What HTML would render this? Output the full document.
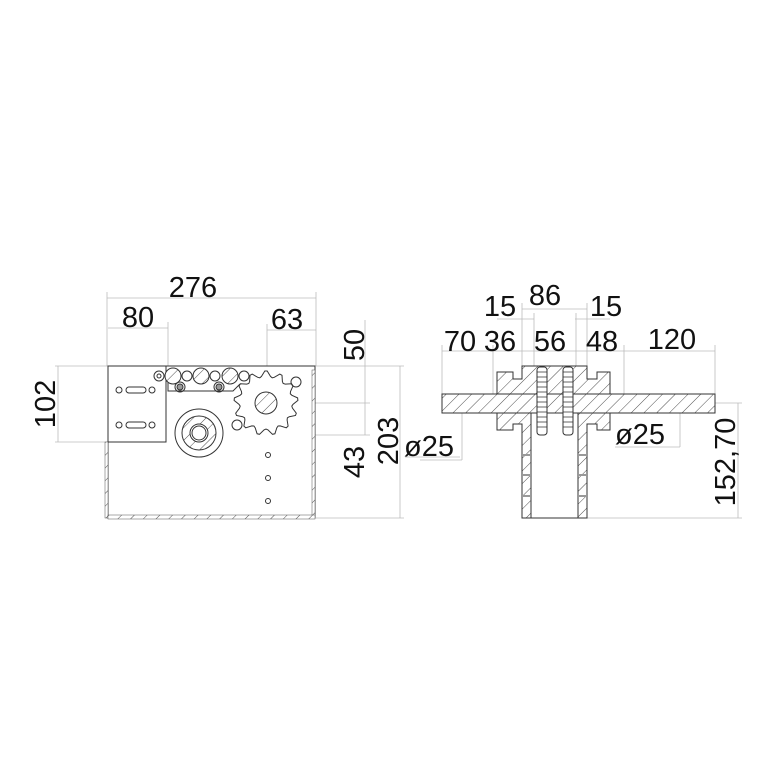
<!DOCTYPE html>
<html><head><meta charset="utf-8"><style>
html,body{margin:0;padding:0;background:#fff}
svg text{font-family:"Liberation Sans",sans-serif;font-size:29px;fill:#111}
</style></head><body>
<svg id="s" width="768" height="768" viewBox="0 0 768 768" xmlns="http://www.w3.org/2000/svg">
<defs>
<pattern id="h" width="9" height="9" patternUnits="userSpaceOnUse" patternTransform="rotate(45)">
<rect width="9" height="9" fill="#fff"/><line x1="0" y1="0" x2="0" y2="9" stroke="#222" stroke-width="0.8"/></pattern>
</defs>
<g stroke="#bbb" stroke-width="0.8" fill="none">
<line x1="107" y1="298" x2="316" y2="298"/><line x1="107" y1="292" x2="107" y2="366"/><line x1="316" y1="292" x2="316" y2="366"/>
<line x1="108" y1="328" x2="168" y2="328"/><line x1="168" y1="322" x2="168" y2="366"/>
<line x1="267" y1="330" x2="316" y2="330"/><line x1="267" y1="324" x2="267" y2="403"/>
<line x1="58" y1="366" x2="58" y2="442"/><line x1="55" y1="366" x2="108" y2="366"/><line x1="55" y1="442" x2="108" y2="442"/>
<line x1="365" y1="320" x2="365" y2="435"/><line x1="316" y1="366" x2="370" y2="366"/><line x1="280" y1="403" x2="370" y2="403"/><line x1="220" y1="435" x2="370" y2="435"/>
<line x1="400" y1="366" x2="400" y2="518"/><line x1="316" y1="518" x2="404" y2="518"/><line x1="370" y1="366" x2="404" y2="366"/>
<line x1="405" y1="457" x2="460" y2="457"/>
<line x1="522" y1="309" x2="587" y2="309"/><line x1="522" y1="303" x2="522" y2="366"/><line x1="587" y1="303" x2="587" y2="366"/>
<line x1="497" y1="319" x2="534" y2="319"/><line x1="575" y1="319" x2="610" y2="319"/>
<line x1="442" y1="351" x2="715" y2="351"/>
<line x1="442" y1="345" x2="442" y2="394"/><line x1="493" y1="345" x2="493" y2="394"/><line x1="534" y1="313" x2="534" y2="366"/><line x1="576" y1="313" x2="576" y2="366"/><line x1="624" y1="345" x2="624" y2="394"/><line x1="715" y1="345" x2="715" y2="394"/>
<line x1="462" y1="403" x2="462" y2="460"/><line x1="420" y1="460" x2="462" y2="460"/>
<line x1="680" y1="403" x2="680" y2="447"/><line x1="615" y1="447" x2="680" y2="447"/>
<line x1="738" y1="403" x2="738" y2="518"/><line x1="715" y1="403" x2="742" y2="403"/><line x1="587" y1="518" x2="742" y2="518"/>
</g>
<g stroke="#333" stroke-width="1" fill="none">
<rect x="108" y="366" width="207" height="152" fill="#fff"/>
<rect x="105" y="442" width="3" height="76" fill="url(#h)" stroke="#555" stroke-width="0.5"/>
<rect x="312" y="370" width="3" height="148" fill="url(#h)" stroke="#555" stroke-width="0.5"/>
<rect x="108" y="515" width="207" height="4" fill="url(#h)" stroke="#555" stroke-width="0.5"/>
<path d="M108 442 H166 V366"/>
<path d="M168 378 V391 H233 L240 384"/>
<circle cx="119" cy="390" r="3"/><circle cx="152" cy="390" r="3"/><rect x="126" y="387" width="20" height="6" rx="3"/>
<circle cx="119" cy="425" r="3"/><circle cx="152" cy="425" r="3"/><rect x="126" y="422" width="20" height="6" rx="3"/>
<circle cx="159" cy="376" r="5"/><circle cx="159" cy="376" r="2"/>
<circle cx="187" cy="376" r="5"/><circle cx="215" cy="376" r="5"/><circle cx="244" cy="376" r="5"/>
<circle cx="173" cy="376" r="8" fill="url(#h)"/><circle cx="201" cy="376" r="8" fill="url(#h)"/><circle cx="230" cy="376" r="8" fill="url(#h)"/>
<circle cx="180" cy="387" r="5"/><circle cx="180" cy="387" r="3" fill="#999"/>
<circle cx="219" cy="387" r="5"/><circle cx="219" cy="387" r="3" fill="#999"/>
<circle cx="199" cy="433" r="24"/><circle cx="199" cy="433" r="17" fill="url(#h)"/><circle cx="199" cy="433" r="9" fill="#fff"/><circle cx="199" cy="433" r="7"/>
<path id="gear" d=""/>
<circle cx="266" cy="403" r="11" fill="url(#h)"/>
<circle cx="296" cy="382" r="5"/><circle cx="237" cy="425" r="5"/>
<circle cx="268" cy="455" r="2.5"/><circle cx="268" cy="478" r="2.5"/><circle cx="268" cy="501" r="2.5"/>
</g>
<g stroke="#333" stroke-width="1">
<path d="M497 372 H513 V379 H522 V366 H587 V379 H597 V372 H610 V394 H497 Z" fill="url(#h)"/>
<path d="M497 413 H610 V430 H597 V424 H587 V518 H522 V424 H513 V430 H497 Z" fill="url(#h)"/>
<rect x="531" y="413" width="47" height="105" fill="#fff"/>
<rect x="442" y="394" width="273" height="19" fill="url(#h)"/>
<rect x="537" y="367" width="10" height="68" rx="3" fill="#fff"/>
<rect x="563" y="367" width="10" height="68" rx="3" fill="#fff"/>
<g stroke-width="0.8"><path d="M537 372H547M537 377H547M537 382H547M537 387H547M537 392H547M537 397H547M537 402H547M537 407H547M537 412H547M537 417H547M537 422H547M537 427H547M563 372H573M563 377H573M563 382H573M563 387H573M563 392H573M563 397H573M563 402H573M563 407H573M563 412H573M563 417H573M563 422H573M563 427H573"/></g>
<path d="M522 455H531M522 475H531M522 496H531M578 455H587M578 475H587M578 496H587" stroke-width="2" stroke="#999"/>
</g>
<text x="193" y="297" text-anchor="middle">276</text>
<text x="138" y="327" text-anchor="middle">80</text>
<text x="287" y="329" text-anchor="middle">63</text>
<text transform="translate(55,404) rotate(-90)" text-anchor="middle">102</text>
<text transform="translate(364,345) rotate(-90)" text-anchor="middle">50</text>
<text transform="translate(364,462) rotate(-90)" text-anchor="middle">43</text>
<text transform="translate(398,441) rotate(-90)" text-anchor="middle">203</text>
<text x="404" y="456">ø25</text>
<text x="545" y="305" text-anchor="middle">86</text>
<text x="500" y="316" text-anchor="middle">15</text>
<text x="606" y="316" text-anchor="middle">15</text>
<text x="460" y="351" text-anchor="middle">70</text>
<text x="500" y="351" text-anchor="middle">36</text>
<text x="550" y="351" text-anchor="middle">56</text>
<text x="602" y="351" text-anchor="middle">48</text>
<text x="672" y="349" text-anchor="middle">120</text>
<text x="615" y="444">ø25</text>
<text transform="translate(735,462) rotate(-90)" text-anchor="middle">152,70</text>
</svg>
<script>
(function(){var cx=266,cy=403,n=13,d="";for(var i=0;i<n;i++){var a=i*2*Math.PI/n-Math.PI/2,s=2*Math.PI/n;
var pts=[[27,a-s*0.35],[32,a-s*0.08],[32,a+s*0.08],[27,a+s*0.35],[26,a+s*0.5]];
pts.forEach(function(p,j){var x=cx+p[0]*Math.cos(p[1]),y=cy+p[0]*Math.sin(p[1]);d+=(i==0&&j==0?"M":"L")+x.toFixed(1)+" "+y.toFixed(1)+" ";});}
document.getElementById("gear").setAttribute("d",d+"Z");document.getElementById("gear").setAttribute("fill","#fff");})();
</script>
</body></html>
